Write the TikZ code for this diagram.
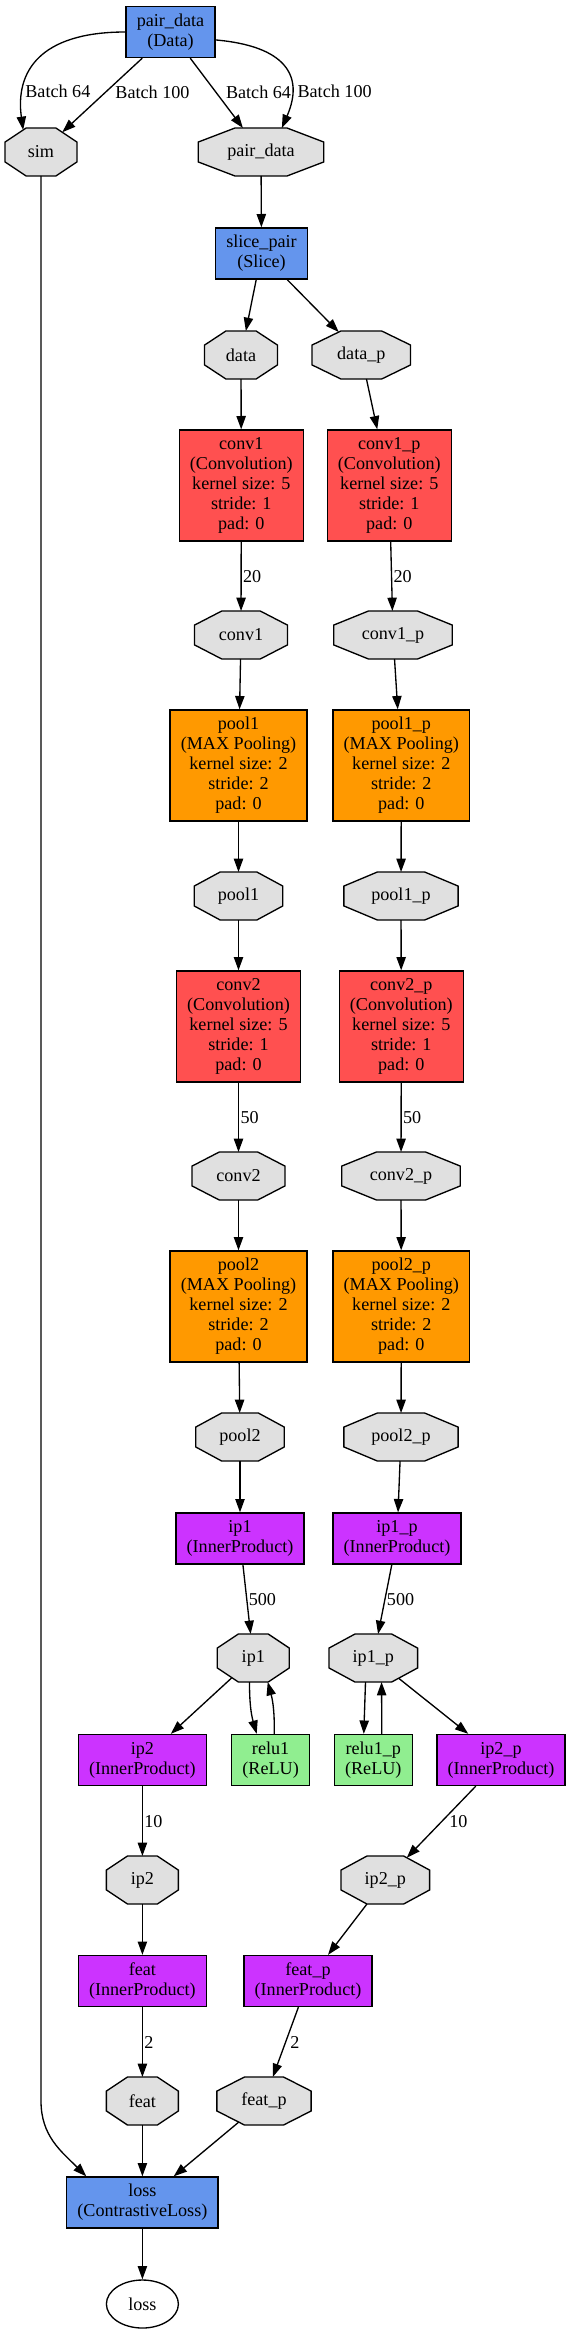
\documentclass[tikz,border=0pt]{standalone}
\usepackage{fontspec}
\setmainfont{Liberation Serif}
\usetikzlibrary{arrows.meta,shapes.geometric}
\definecolor{layerblue}{HTML}{6495ED}
\definecolor{convred}{HTML}{FF5050}
\definecolor{poolorange}{HTML}{FF9900}
\definecolor{ipviolet}{HTML}{CC33FF}
\definecolor{relugreen}{HTML}{90EE90}
\definecolor{blobgray}{HTML}{E0E0E0}

\makeatletter
\newdimen\octcx \newdimen\octcy \newdimen\octa \newdimen\octb
\newdimen\octrx \newdimen\octry \newdimen\octdx \newdimen\octdy
\def\octsize{%
  \pgf@xa=\wd\pgfnodeparttextbox
  \pgfmathsetlength\pgf@xc{\pgfkeysvalueof{/pgf/inner xsep}}%
  \advance\pgf@xa by 2\pgf@xc
  \pgf@xa=1.4142\pgf@xa
  \pgfmathsetlength\pgf@xb{\pgfkeysvalueof{/pgf/minimum width}}%
  \ifdim\pgf@xa<\pgf@xb \pgf@xa=\pgf@xb \fi
  \pgf@xa=.5\pgf@xa
  \pgfmathsetlength\pgf@ya{\pgfkeysvalueof{/pgf/minimum height}}%
  \pgf@ya=.5\pgf@ya
  \pgf@xc=.5\wd\pgfnodeparttextbox
  \pgf@yc=.5\ht\pgfnodeparttextbox
  \advance\pgf@yc by -.5\dp\pgfnodeparttextbox
}
\pgfdeclareshape{octbox}{%
  \savedanchor\northeast{\octsize
    \pgf@x=\pgf@xc \advance\pgf@x by \pgf@xa
    \pgf@y=\pgf@yc \advance\pgf@y by \pgf@ya}%
  \savedanchor\southwest{\octsize
    \pgf@x=\pgf@xc \advance\pgf@x by -\pgf@xa
    \pgf@y=\pgf@yc \advance\pgf@y by -\pgf@ya}%
  \inheritanchor[from=rectangle]{center}%
  \inheritanchor[from=rectangle]{north}%
  \inheritanchor[from=rectangle]{south}%
  \inheritanchor[from=rectangle]{east}%
  \inheritanchor[from=rectangle]{west}%
  \anchorborder{%
    \octrx=\pgf@x \octry=\pgf@y
    \southwest \octcx=\pgf@x \octcy=\pgf@y
    \northeast
    \octa=\pgf@x \advance\octa by -\octcx \octa=.5\octa
    \octb=\pgf@y \advance\octb by -\octcy \octb=.5\octb
    \advance\octcx by \octa \advance\octcy by \octb
    \pgfpointborderrectangle{\pgfqpoint{\octrx}{\octry}}{\pgfqpoint{\octa}{\octb}}%
    \octrx=\pgf@x \octry=\pgf@y
    \pgfmathsetmacro\octs{abs(\octrx)/\octa+abs(\octry)/\octb}%
    \ifdim\octs pt>1.4142pt
      \pgfmathsetmacro\octk{1.4142/\octs}%
      \octrx=\octk\octrx \octry=\octk\octry
    \fi
    \pgf@x=\octrx \advance\pgf@x by \octcx
    \pgf@y=\octry \advance\pgf@y by \octcy
  }%
  \backgroundpath{%
    \southwest \octcx=\pgf@x \octcy=\pgf@y
    \northeast \octa=\pgf@x \octb=\pgf@y
    \octdx=\octa \advance\octdx by -\octcx \octdx=.2929\octdx
    \octdy=\octb \advance\octdy by -\octcy \octdy=.2929\octdy
    \pgfpathmoveto{\pgfqpoint{\dimexpr\octcx+\octdx\relax}{\octb}}%
    \pgfpathlineto{\pgfqpoint{\dimexpr\octa-\octdx\relax}{\octb}}%
    \pgfpathlineto{\pgfqpoint{\octa}{\dimexpr\octb-\octdy\relax}}%
    \pgfpathlineto{\pgfqpoint{\octa}{\dimexpr\octcy+\octdy\relax}}%
    \pgfpathlineto{\pgfqpoint{\dimexpr\octa-\octdx\relax}{\octcy}}%
    \pgfpathlineto{\pgfqpoint{\dimexpr\octcx+\octdx\relax}{\octcy}}%
    \pgfpathlineto{\pgfqpoint{\octcx}{\dimexpr\octcy+\octdy\relax}}%
    \pgfpathlineto{\pgfqpoint{\octcx}{\dimexpr\octb-\octdy\relax}}%
    \pgfpathclose
  }%
}
\makeatother

\begin{document}
\begin{tikzpicture}[x=0.75pt, y=-0.75pt, line width=1pt,
  >={Triangle[length=10pt,width=7pt]},
  every node/.style={font=\fontsize{13.6}{15}\selectfont},
  layer/.style={draw, rectangle, align=center, inner xsep=8pt, minimum width=54pt, minimum height=38.25pt},
  tall/.style={layer, minimum height=83.25pt},
  blob/.style={draw, shape=octbox, fill=blobgray, inner xsep=8pt, minimum width=54pt, minimum height=36pt},
  lbl/.style={right, inner sep=1pt}]
\useasboundingbox (0,0) rectangle (571,2333);

\node[layer, fill=layerblue] (pdata) at (170.5,32) {pair\_data\\(Data)};
\node[blob] (sim) at (41,152) {sim};
\node[blob] (pdblob) at (261,152) {pair\_data};
\node[layer, fill=layerblue] (slice) at (261.5,253.5) {slice\_pair\\(Slice)};
\node[blob] (data) at (241,355) {data};
\node[blob] (datap) at (361.3,355) {data\_p};

\node[tall, fill=convred] (conv1) at (241.3,485.5) {conv1\\(Convolution)\\kernel size: 5\\stride: 1\\pad: 0};
\node[tall, fill=convred] (conv1p) at (389.3,485.5) {conv1\_p\\(Convolution)\\kernel size: 5\\stride: 1\\pad: 0};
\node[blob] (conv1b) at (241,635) {conv1};
\node[blob] (conv1pb) at (393,635) {conv1\_p};
\node[tall, fill=poolorange] (pool1) at (238.5,765.5) {pool1\\(MAX Pooling)\\kernel size: 2\\stride: 2\\pad: 0};
\node[tall, fill=poolorange] (pool1p) at (401.3,765.5) {pool1\_p\\(MAX Pooling)\\kernel size: 2\\stride: 2\\pad: 0};
\node[blob] (pool1b) at (238.5,896) {pool1};
\node[blob] (pool1pb) at (401,896) {pool1\_p};

\node[tall, fill=convred] (conv2) at (238.5,1026.5) {conv2\\(Convolution)\\kernel size: 5\\stride: 1\\pad: 0};
\node[tall, fill=convred] (conv2p) at (401.3,1026.5) {conv2\_p\\(Convolution)\\kernel size: 5\\stride: 1\\pad: 0};
\node[blob] (conv2b) at (238.5,1176) {conv2};
\node[blob] (conv2pb) at (401,1176) {conv2\_p};
\node[tall, fill=poolorange] (pool2) at (238.5,1306.5) {pool2\\(MAX Pooling)\\kernel size: 2\\stride: 2\\pad: 0};
\node[tall, fill=poolorange] (pool2p) at (401.3,1306.5) {pool2\_p\\(MAX Pooling)\\kernel size: 2\\stride: 2\\pad: 0};
\node[blob] (pool2b) at (240,1437) {pool2};
\node[blob] (pool2pb) at (401,1437) {pool2\_p};

\node[layer, fill=ipviolet] (ip1) at (240,1538.5) {ip1\\(InnerProduct)};
\node[layer, fill=ipviolet] (ip1p) at (397,1538.5) {ip1\_p\\(InnerProduct)};
\node[blob] (ip1b) at (253.3,1658) {ip1};
\node[blob] (ip1pb) at (373.3,1658) {ip1\_p};
\node[layer, fill=ipviolet] (ip2) at (142.4,1760) {ip2\\(InnerProduct)};
\node[layer, fill=relugreen] (relu1) at (270.6,1760) {relu1\\(ReLU)};
\node[layer, fill=relugreen] (relu1p) at (373.3,1760) {relu1\_p\\(ReLU)};
\node[layer, fill=ipviolet] (ip2p) at (501,1760) {ip2\_p\\(InnerProduct)};
\node[blob] (ip2b) at (142.4,1880) {ip2};
\node[blob] (ip2pb) at (385.3,1880) {ip2\_p};
\node[layer, fill=ipviolet] (feat) at (142.4,1981) {feat\\(InnerProduct)};
\node[layer, fill=ipviolet] (featp) at (308,1981) {feat\_p\\(InnerProduct)};
\node[blob] (featb) at (142.4,2101) {feat};
\node[blob] (featpb) at (264,2101) {feat\_p};
\node[layer, fill=layerblue] (loss) at (142.4,2202.5) {loss\\(ContrastiveLoss)};
\node[draw, ellipse, minimum width=54pt, minimum height=36pt, inner sep=0pt] (lossb) at (142.4,2304) {loss};

\draw[->] (pdata.west) .. controls +(-86,0) and +(-8,-58) .. node[lbl, pos=.76] {Batch 64} (sim.129);
\draw[->] (pdata) -- node[lbl, pos=.46, xshift=6pt] {Batch 100} (sim);
\draw[->] (pdata) -- node[lbl, pos=.49, xshift=6pt] {Batch 64} (pdblob);
\draw[->] (pdata.-10) .. controls +(69,6) and +(23,-53) .. node[lbl, pos=.74, xshift=3.5pt] {Batch 100} (pdblob.49);
\draw[->] (pdblob) -- (slice);
\draw[->] (slice) -- (data);
\draw[->] (slice) -- (datap);

\draw[->] (data) -- (conv1);
\draw[->] (datap) -- (conv1p);
\draw[->] (conv1) -- node[lbl] {20} (conv1b);
\draw[->] (conv1p) -- node[lbl] {20} (conv1pb);
\draw[->] (conv1b) -- (pool1);
\draw[->] (conv1pb) -- (pool1p);
\draw[->] (pool1) -- (pool1b);
\draw[->] (pool1p) -- (pool1pb);
\draw[->] (pool1b) -- (conv2);
\draw[->] (pool1pb) -- (conv2p);
\draw[->] (conv2) -- node[lbl] {50} (conv2b);
\draw[->] (conv2p) -- node[lbl] {50} (conv2pb);
\draw[->] (conv2b) -- (pool2);
\draw[->] (conv2pb) -- (pool2p);
\draw[->] (pool2) -- (pool2b);
\draw[->] (pool2p) -- (pool2pb);
\draw[->] (pool2b) -- (ip1);
\draw[->] (pool2pb) -- (ip1p);

\draw[->] (ip1) -- node[lbl] {500} (ip1b);
\draw[->] (ip1p) -- node[lbl] {500} (ip1pb);
\draw[->] (ip1b) -- (ip2);
\draw[->] (ip1b.-99) to[bend right=8] (relu1.118);
\draw[->] (relu1.82) to[bend right=8] (ip1b.-59);
\draw[->] (ip1pb.-108) -- (relu1p.110);
\draw[->] (relu1p.72) -- (ip1pb.-71);
\draw[->] (ip1pb) -- (ip2p);
\draw[->] (ip2) -- node[lbl] {10} (ip2b);
\draw[->] (ip2p) -- node[lbl, xshift=4.5pt] {10} (ip2pb);
\draw[->] (ip2b) -- (feat);
\draw[->] (ip2pb) -- (featp);
\draw[->] (feat) -- node[lbl] {2} (featb);
\draw[->] (featp) -- node[lbl, xshift=2pt] {2} (featpb);
\draw[->] (featb) -- (loss);
\draw[->] (featpb) -- (loss);
\draw[->] (sim) -- (sim |- featb) .. controls +(0,35) and +(-25,-25) .. (loss.155);
\draw[->] (loss) -- (lossb);
\end{tikzpicture}
\end{document}
